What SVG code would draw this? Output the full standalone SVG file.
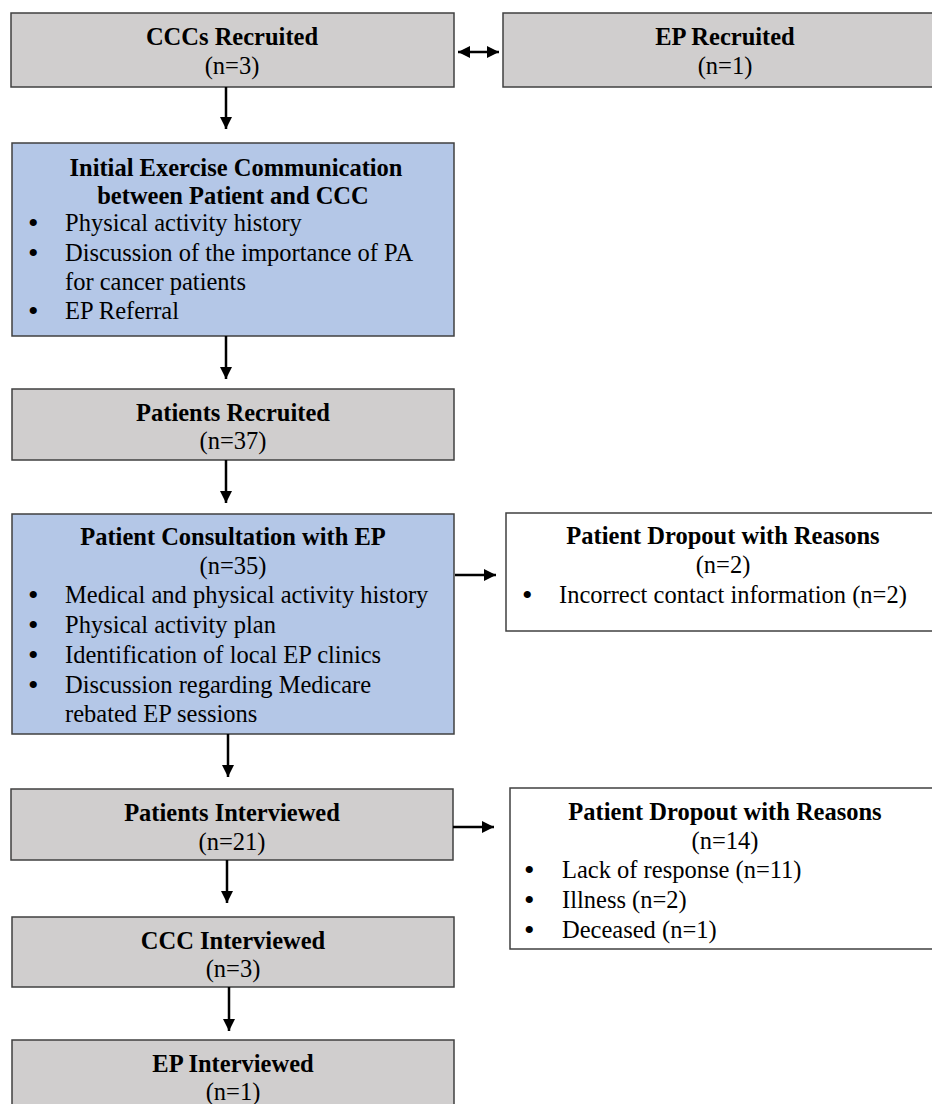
<svg xmlns="http://www.w3.org/2000/svg" width="932" height="1104" viewBox="0 0 932 1104">
<defs>
<marker id="ah" viewBox="0 0 12 12" refX="12" refY="6" markerWidth="12" markerHeight="12" orient="auto-start-reverse" markerUnits="userSpaceOnUse"><path d="M0,0 L12,6 L0,12 z" fill="#000"/></marker>
</defs>
<style>
.gray{fill:#d0cece;stroke:#404040;stroke-width:1.5}
.blue{fill:#b4c7e7;stroke:#404040;stroke-width:1.5}
.white{fill:#fff;stroke:#404040;stroke-width:1.5}
text{font-family:"Liberation Serif","Times New Roman",serif;font-size:24.5px;fill:#000}
.t{font-weight:bold;text-anchor:middle}
.c{text-anchor:middle}
.b{font-size:30px}
.conn line{stroke:#000;stroke-width:2.5;marker-end:url(#ah)}
</style>
<rect width="932" height="1104" fill="#fff"/>
<g id="ccc-recruited">
<rect class="gray" x="11" y="13" width="443" height="74"/>
<text class="t" x="232" y="45">CCCs Recruited</text>
<text class="c" x="232" y="74">(n=3)</text>
</g>
<g id="ep-recruited">
<rect class="gray" x="503" y="13" width="445" height="74"/>
<text class="t" x="725" y="45">EP Recruited</text>
<text class="c" x="725" y="74">(n=1)</text>
</g>
<g id="initial-communication">
<rect class="blue" x="12" y="143" width="442" height="193"/>
<text class="t" x="236" y="176">Initial Exercise Communication</text>
<text class="t" x="233" y="204">between Patient and CCC</text>
<text><tspan class="b" x="28" y="233">•</tspan><tspan x="65" y="231">Physical activity history</tspan></text>
<text><tspan class="b" x="28" y="263">•</tspan><tspan x="65" y="261">Discussion of the importance of PA</tspan></text>
<text x="65" y="290">for cancer patients</text>
<text><tspan class="b" x="28" y="321">•</tspan><tspan x="65" y="319">EP Referral</tspan></text>
</g>
<g id="patients-recruited">
<rect class="gray" x="12" y="389" width="442" height="71"/>
<text class="t" x="233" y="421">Patients Recruited</text>
<text class="c" x="233" y="449">(n=37)</text>
</g>
<g id="patient-consultation">
<rect class="blue" x="12" y="514" width="442" height="220"/>
<text class="t" x="233" y="545">Patient Consultation with EP</text>
<text class="c" x="233" y="574">(n=35)</text>
<text><tspan class="b" x="28" y="605">•</tspan><tspan x="65" y="603">Medical and physical activity history</tspan></text>
<text><tspan class="b" x="28" y="635">•</tspan><tspan x="65" y="633">Physical activity plan</tspan></text>
<text><tspan class="b" x="28" y="665">•</tspan><tspan x="65" y="663">Identification of local EP clinics</tspan></text>
<text><tspan class="b" x="28" y="695">•</tspan><tspan x="65" y="693">Discussion regarding Medicare</tspan></text>
<text x="65" y="722">rebated EP sessions</text>
</g>
<g id="dropout-1">
<rect class="white" x="506" y="513" width="442" height="118"/>
<text class="t" x="723" y="544">Patient Dropout with Reasons</text>
<text class="c" x="723" y="573">(n=2)</text>
<text><tspan class="b" x="522" y="605">•</tspan><tspan x="559" y="603">Incorrect contact information (n=2)</tspan></text>
</g>
<g id="patients-interviewed">
<rect class="gray" x="11" y="789" width="442" height="71"/>
<text class="t" x="232" y="821">Patients Interviewed</text>
<text class="c" x="232" y="850">(n=21)</text>
</g>
<g id="dropout-2">
<rect class="white" x="510" y="788" width="440" height="161"/>
<text class="t" x="725" y="820">Patient Dropout with Reasons</text>
<text class="c" x="725" y="849">(n=14)</text>
<text><tspan class="b" x="524" y="880">•</tspan><tspan x="562" y="878">Lack of response (n=11)</tspan></text>
<text><tspan class="b" x="524" y="910">•</tspan><tspan x="562" y="908">Illness (n=2)</tspan></text>
<text><tspan class="b" x="524" y="940">•</tspan><tspan x="562" y="938">Deceased (n=1)</tspan></text>
</g>
<g id="ccc-interviewed">
<rect class="gray" x="12" y="917" width="442" height="70"/>
<text class="t" x="233" y="949">CCC Interviewed</text>
<text class="c" x="233" y="977">(n=3)</text>
</g>
<g id="ep-interviewed">
<rect class="gray" x="12" y="1040" width="442" height="80"/>
<text class="t" x="233" y="1072">EP Interviewed</text>
<text class="c" x="233" y="1100">(n=1)</text>
</g>
<g class="conn" id="connectors">
<line x1="458" y1="52" x2="499" y2="52" style="marker-start:url(#ah)"/>
<line x1="226" y1="87" x2="226" y2="129"/>
<line x1="226" y1="336" x2="226" y2="379"/>
<line x1="226" y1="460" x2="226" y2="503"/>
<line x1="455" y1="575" x2="496" y2="575"/>
<line x1="228" y1="734" x2="228" y2="777"/>
<line x1="453" y1="827" x2="494" y2="827"/>
<line x1="227" y1="860" x2="227" y2="903"/>
<line x1="229" y1="987" x2="229" y2="1031"/>
</g>
</svg>
